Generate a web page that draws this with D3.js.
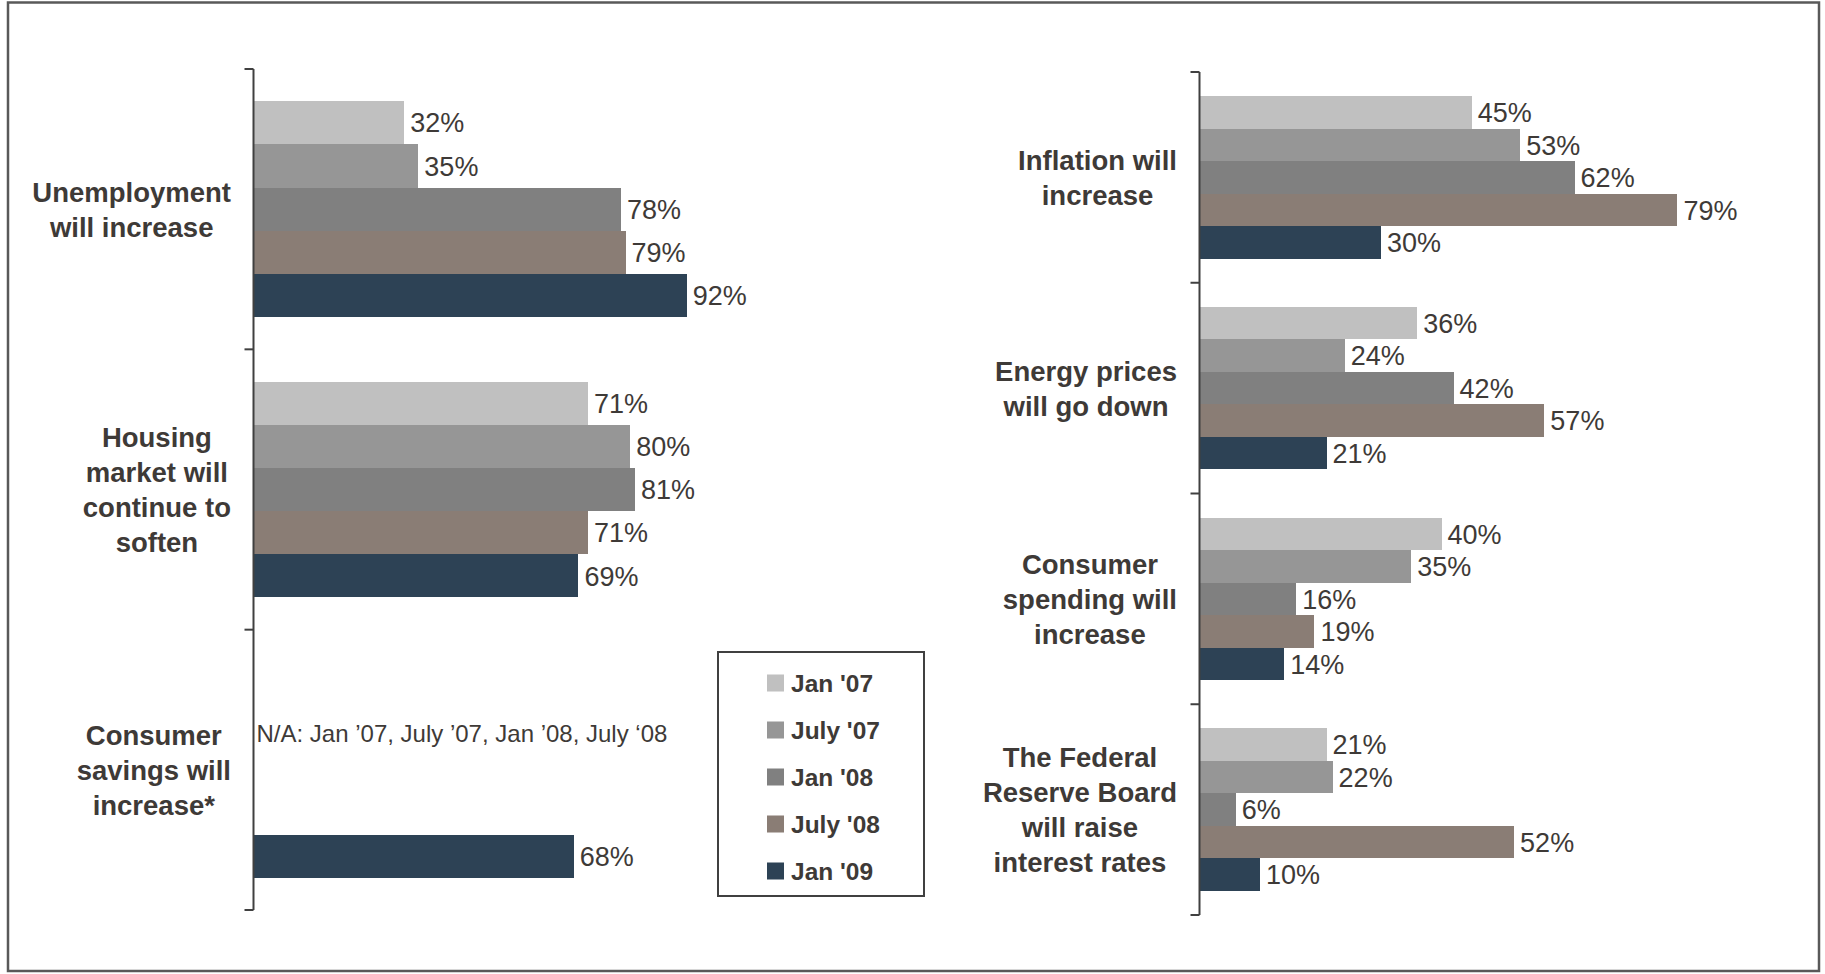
<!DOCTYPE html>
<html>
<head>
<meta charset="utf-8">
<script src="https://cdn.jsdelivr.net/npm/d3@7"></script>
<style>
  html, body { margin: 0; padding: 0; background: #fff; }
  svg { display: block; }
  text { font-family: "Liberation Sans", Arial, sans-serif; fill: #3e3a37; }
</style>
</head>
<body>
<svg id="chart" width="1825" height="974"></svg>
<script>
// Survey periods (series) and their fill colours
const series = ["Jan '07", "July '07", "Jan '08", "July '08", "Jan '09"];
const seriesColors = ["#c0c0c0", "#969696", "#808080", "#8a7d75", "#2d4255"];

// Left panel: categories (multi-line labels) and percentages per period
const leftCategories = ["Unemployment will increase", "Housing market will continue to soften", "Consumer savings will increase*"];
const leftLabelLines = [["Unemployment", "will increase"], ["Housing", "market will", "continue to", "soften"], ["Consumer", "savings will", "increase*"]];
const leftValues = [
  [32, 35, 78, 79, 92],
  [71, 80, 81, 71, 69],
  [null, null, null, null, 68]
];
const naNote = "N/A: Jan \u201907, July \u201907, Jan \u201908, July \u201808";

// Right panel
const rightCategories = ["Inflation will increase", "Energy prices will go down", "Consumer spending will increase", "The Federal Reserve Board will raise interest rates"];
const rightLabelLines = [["Inflation will", "increase"], ["Energy prices", "will go down"], ["Consumer", "spending will", "increase"], ["The Federal", "Reserve Board", "will raise", "interest rates"]];
const rightValues = [
  [45, 53, 62, 79, 30],
  [36, 24, 42, 57, 21],
  [40, 35, 16, 19, 14],
  [21, 22, 6, 52, 10]
];

const svg = d3.select("#chart");

// outer frame
svg.append("rect")
  .attr("x", 8).attr("y", 2.5).attr("width", 1811).attr("height", 968.5)
  .attr("fill", "#fff").attr("stroke", "#595959").attr("stroke-width", 2.5);

const color = d3.scaleOrdinal().domain(series).range(seriesColors);

function panel(cfg) {
  const g = svg.append("g");
  const y = d3.scaleBand().domain(cfg.categories).range(cfg.yRange).paddingInner(0).paddingOuter(0);
  const inner = d3.scaleBand().domain(series).range([0, y.bandwidth()]).paddingInner(0).paddingOuter(0.745);
  const x = d3.scaleLinear().domain([0, 100]).range([cfg.axisX, cfg.axisX + cfg.width100]);

  // bars
  cfg.categories.forEach((cat, ci) => {
    const rows = series.map((s, si) => ({ s, v: cfg.values[ci][si] })).filter(d => d.v != null);
    const cg = g.append("g").attr("transform", `translate(0,${y(cat)})`);
    cg.selectAll("rect").data(rows).join("rect")
      .attr("x", x(0))
      .attr("y", d => inner(d.s))
      .attr("width", d => x(d.v) - x(0))
      .attr("height", inner.bandwidth())
      .attr("fill", d => color(d.s))
      .attr("shape-rendering", "crispEdges");
    cg.selectAll("text.val").data(rows).join("text")
      .attr("class", "val")
      .attr("x", d => x(d.v) + 6)
      .attr("y", d => inner(d.s) + inner.bandwidth() / 2)
      .attr("dy", "0.36em")
      .style("font-size", "27px")
      .text(d => d.v + "%");

    // category label: lines centred within a block right-aligned to the axis
    const lines = cfg.labels[ci];
    const lh = 35;
    const cy = y(cat) + y.bandwidth() / 2;
    const tg = g.append("g");
    const ts = tg.selectAll("text").data(lines).join("text")
      .attr("text-anchor", "middle")
      .attr("y", (d, i) => cy + (i - (lines.length - 1) / 2) * lh)
      .attr("dy", "0.36em")
      .style("font-size", "27.5px")
      .style("font-weight", "bold")
      .text(d => d);
    let maxW = 0;
    ts.each(function () { maxW = Math.max(maxW, this.getComputedTextLength()); });
    ts.attr("x", cfg.axisX - 22.5 - maxW / 2);

    if (cfg.note && cfg.note.index === ci) {
      cg.append("text")
        .attr("x", x(0) + 3)
        .attr("y", inner(series[1]) + inner.bandwidth() / 2 + 7)
        .attr("dy", "0.36em")
        .style("font-size", "24px")
        .text(cfg.note.text);
    }
  });

  // axis line with ticks at band boundaries
  const [y0, y1] = y.range();
  const ax = g.append("g").attr("stroke", "#404040").attr("stroke-width", 2);
  ax.append("line").attr("x1", cfg.axisX).attr("x2", cfg.axisX).attr("y1", y0).attr("y2", y1);
  const bounds = cfg.categories.map(c => y(c)).concat([y1]);
  ax.selectAll("line.tick").data(bounds).join("line")
    .attr("class", "tick")
    .attr("x1", cfg.axisX - 9).attr("x2", cfg.axisX)
    .attr("y1", d => d).attr("y2", d => d);
}

panel({
  categories: leftCategories, labels: leftLabelLines, values: leftValues,
  yRange: [69, 910], axisX: 253.5, width100: 471,
  note: { index: 2, text: naNote }
});

panel({
  categories: rightCategories, labels: rightLabelLines, values: rightValues,
  yRange: [72, 915], axisX: 1199.5, width100: 605
});

// legend
const legend = svg.append("g");
legend.append("rect")
  .attr("x", 718).attr("y", 652).attr("width", 206).attr("height", 244)
  .attr("fill", "#fff").attr("stroke", "#404040").attr("stroke-width", 2);
const ly = d3.scalePoint().domain(series).range([683, 871]);
const items = legend.selectAll("g.item").data(series).join("g").attr("class", "item")
  .attr("transform", d => `translate(0,${ly(d)})`);
items.append("rect")
  .attr("x", 767).attr("y", -8.5).attr("width", 17).attr("height", 17)
  .attr("fill", d => color(d));
items.append("text")
  .attr("x", 791).attr("dy", "0.36em")
  .style("font-size", "24.5px").style("font-weight", "bold")
  .text(d => d);
</script>
</body>
</html>
